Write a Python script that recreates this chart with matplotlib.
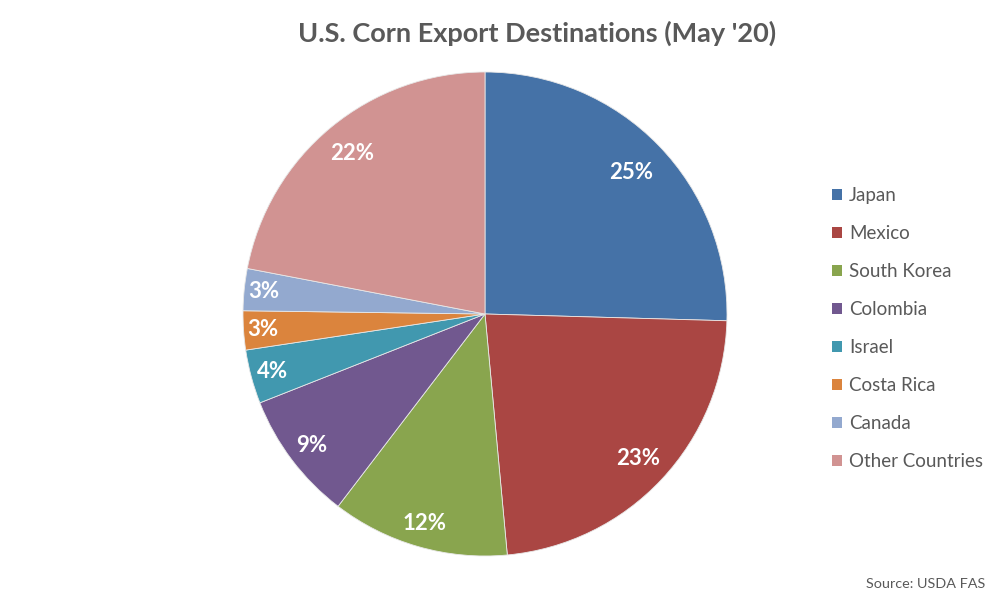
import matplotlib
matplotlib.use("Agg")
import matplotlib.pyplot as plt
import numpy as np

countries = ["Japan", "Mexico", "South Korea", "Colombia", "Israel",
             "Costa Rica", "Canada", "Other Countries"]
shares = [25.46, 23.1, 11.86, 8.64, 3.6, 2.6, 2.8, 22.0]
colors = ["#4572A7", "#AA4643", "#89A54E", "#71588F", "#4198AF",
          "#DB843D", "#93A9CF", "#D19392"]
label_radius = [0.84, 0.87, 0.90, 0.90, 0.91, 0.92, 0.92, 0.86]

plt.rcParams['font.family'] = ['Lato', 'DejaVu Sans']

fig = plt.figure(figsize=(10.05, 6.01), dpi=100)
W, H = 1005, 601
cx, cy, r = 485, 314, 242
ax = fig.add_axes([(cx - r) / W, (H - cy - r) / H, 2 * r / W, 2 * r / H])

wedges, texts, autotexts = ax.pie(
    shares, colors=colors, startangle=90, counterclock=False,
    autopct=lambda p: f"{p:.0f}%", radius=1,
    wedgeprops=dict(edgecolor="#e8e8e8", linewidth=0.6),
    textprops=dict(color="white", fontsize=16, fontweight="bold"))
for w, t, rr in zip(wedges, autotexts, label_radius):
    th = np.deg2rad((w.theta1 + w.theta2) / 2)
    t.set_position((rr * np.cos(th), rr * np.sin(th)))
    t.set_ha("center"); t.set_va("center")
ax.set_xlim(-1, 1); ax.set_ylim(-1, 1)
ax.set_aspect("equal")
ax.axis("off")

fig.text(537 / W, 1 - 33 / H, "U.S. Corn Export Destinations (May '20)",
         ha="center", va="center", fontsize=19.5, fontweight="bold", color="#595959")
fig.text(985 / W, 1 - 584 / H, "Source: USDA FAS", ha="right", va="center",
         fontsize=10.4, color="#595959")

leg = fig.legend(wedges, countries, loc="upper left",
                 bbox_to_anchor=(832 / W, 1 - 187 / H), frameon=False,
                 handlelength=0.55, handleheight=0.55, handletextpad=0.35,
                 labelspacing=1.12, fontsize=13.5, labelcolor="#595959",
                 borderpad=0, borderaxespad=0)
for h in leg.legend_handles:
    h.set_edgecolor("none")

fig.savefig("out.png", dpi=100, facecolor="white")
